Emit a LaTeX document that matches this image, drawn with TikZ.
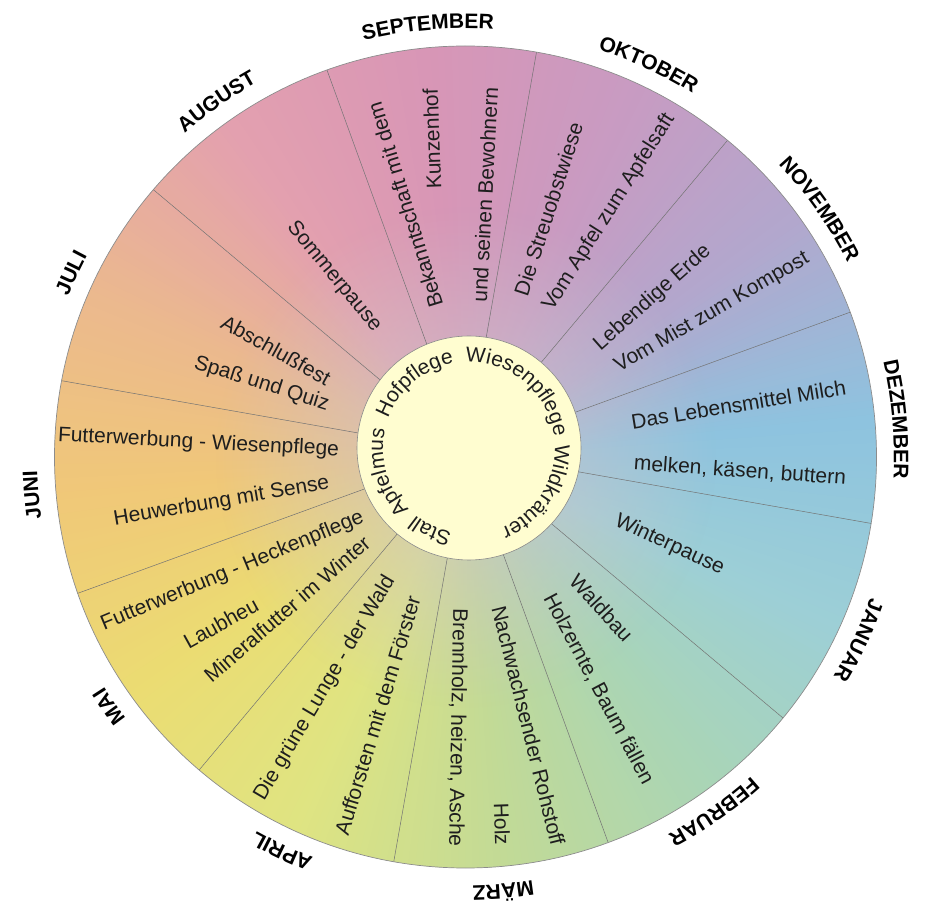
\documentclass[tikz,border=0pt]{standalone}
\usepackage{fontspec}
\setmainfont{Liberation Sans}
\usetikzlibrary{decorations.text,fadings}

% ring colours, one per month (taken at the rim)
\definecolor{cSep}{HTML}{D896B6}
\definecolor{cOkt}{HTML}{C89BC2}
\definecolor{cNov}{HTML}{B2A7CD}
\definecolor{cDez}{HTML}{8EC3DF}
\definecolor{cJan}{HTML}{9DCFD6}
\definecolor{cFeb}{HTML}{AAD5B5}
\definecolor{cMar}{HTML}{C2DA96}
\definecolor{cApr}{HTML}{DFE482}
\definecolor{cMai}{HTML}{EBDC72}
\definecolor{cJun}{HTML}{F0C878}
\definecolor{cJul}{HTML}{EBB88F}
\definecolor{cAug}{HTML}{E3A0AF}
\definecolor{paleCore}{HTML}{CCC4CC}
\definecolor{hubFill}{HTML}{FFFDD0}
\definecolor{inkText}{HTML}{1E1E1E}

\tikzfading[name=corefade, inner color=transparent!15, outer color=transparent!100]

\newcommand\labelfont{\fontsize{21}{25}\selectfont}
\newcommand\monthfont{\fontsize{21}{25}\selectfont\bfseries}

% month name bent along the outer arc, centred on angle #1
\newcommand\monthat[2]{%
  \path[decorate, decoration={text along path, text align=center,
        text={|\monthfont\color{black}|#2}}]
    ({#1+25}:428.5) arc[start angle={#1+25}, end angle={#1-25}, radius=428.5];}
% theme word bent along the inside of the hub, centred on angle #1
\newcommand\hubat[2]{%
  \path[decorate, decoration={text along path, text align=center,
        text={|\labelfont\color{inkText}|#2}}]
    ({#1+70}:86) arc[start angle={#1+70}, end angle={#1-70}, radius=86];}

\tikzset{
  wheeltext/.style={font=\labelfont, text=inkText, inner sep=0pt, anchor=center},
  divider/.style={draw=black!55, line width=0.5pt},
  rim/.style={draw=black!45, line width=0.7pt},
  hubdisc/.style={fill=hubFill, draw=black!45, line width=0.6pt},
}

\begin{document}
\begin{tikzpicture}[x=1pt, y=1pt]
\useasboundingbox (-465.5,-452) rectangle (467.5,457);

% colour wheel: thin wedges blended between the month colours
\foreach \ca/\cb/\a in {cDez/cNov/5, cNov/cOkt/35, cOkt/cSep/65, cSep/cAug/95,
    cAug/cJul/125, cJul/cJun/155, cJun/cMai/185, cMai/cApr/215,
    cApr/cMar/245, cMar/cFeb/275, cFeb/cJan/305, cJan/cDez/335}{
  \foreach \j in {0,...,29}{
    \pgfmathsetmacro\wp{100-\j*10/3}
    \pgfmathsetmacro\wa{\a+\j}
    \pgfmathsetmacro\wb{\a+\j+1.4}
    \fill[fill=\ca!\wp!\cb] (0,0) -- (\wa:411)
      arc[start angle=\wa, end angle=\wb, radius=411] -- cycle;
  }
}
% paler, greyer core
\fill[paleCore, path fading=corefade, fit fading=false, fading transform={scale=10}]
  (0,0) circle (411);

% month dividers
\begin{scope}
  \clip (0,0) circle (411);
  \foreach \t in {20,50,...,350}
    \draw[divider] (0.5,5) -- ++(\t:440);
\end{scope}
\draw[rim] (0,0) circle (411);

% hub
\draw[hubdisc] (3.5,9) circle (112);
\begin{scope}[shift={(3.5,9)}]
  \hubat{50}{Wiesenpflege}
  \hubat{130}{Hofpflege}
  \hubat{196.6}{Apfelmus}
  \hubat{245}{Stall}
  \hubat{-32.8}{Wildkräuter}
\end{scope}

% month names
\monthat{95}{SEPTEMBER}
\monthat{65}{OKTOBER}
\monthat{35}{NOVEMBER}
\monthat{5}{DEZEMBER}
\monthat{-25}{JANUAR}
\monthat{-55}{FEBRUAR}
\monthat{-85}{MÄRZ}
\monthat{-115}{APRIL}
\monthat{-145}{MAI}
\monthat{-175}{JUNI}
\monthat{-205}{JULI}
\monthat{-235}{AUGUST}

% September
\node[wheeltext, rotate=107] (sep1) at (-60.5,252) {Bekanntschaft mit dem};
\node[wheeltext, rotate=92]  (sep2) at (-33.5,318) {Kunzenhof};
\node[wheeltext, rotate=87]  (sep3) at (19.5,262) {und seinen Bewohnern};
% Oktober
\node[wheeltext, rotate=72]   (okt1) at (83,248) {Die Streuobstwiese};
\node[wheeltext, rotate=57.6] (okt2) at (143.5,244.5) {Vom Apfel zum Apfelsaft};
% November
\node[wheeltext, rotate=41.5] (nov1) at (187,159) {Lebendige Erde};
\node[wheeltext, rotate=30]   (nov2) at (246.5,144.5) {Vom Mist zum Kompost};
% Dezember
\node[wheeltext, rotate=9.2] (dez1) at (273,52.5) {Das Lebensmittel Milch};
\node[wheeltext, rotate=-4]  (dez2) at (274.5,-14) {melken, käsen, buttern};
% Januar
\node[wheeltext, rotate=-25] (jan1) at (204,-88) {Winterpause};
% Februar
\node[wheeltext, rotate=-47.5] (feb1) at (136,-151) {Waldbau};
\node[wheeltext, rotate=-62]   (feb2) at (133,-232) {Holzernte, Baum fällen};
% März
\node[wheeltext, rotate=-76] (mar1) at (63,-268.5) {Nachwachsender Rohstoff};
\node[wheeltext, rotate=-88] (mar2) at (36.5,-367) {Holz};
\node[wheeltext, rotate=-91] (mar3) at (-8,-270.5) {Brennholz, heizen, Asche};
% April
\node[wheeltext, rotate=59.4] (apr1) at (-140.5,-231) {Die grüne Lunge - der Wald};
\node[wheeltext, rotate=73]   (apr2) at (-88,-258.5) {Aufforsten mit dem Förster};
% Mai
\node[wheeltext, rotate=22.6] (mai1) at (-233,-114) {Futterwerbung - Heckenpflege};
\node[wheeltext, rotate=29]   (mai2) at (-244.5,-166) {Laubheu};
\node[wheeltext, rotate=40.8] (mai3) at (-178.5,-152) {Mineralfutter im Winter};
% Juni
\node[wheeltext, rotate=-3]  (jun1) at (-267,14) {Futterwerbung - Wiesenpflege};
\node[wheeltext, rotate=9.7] (jun2) at (-244,-44.5) {Heuwerbung mit Sense};
% Juli
\node[wheeltext, rotate=-29]   (jul1) at (-189.5,107) {Abschlußfest};
\node[wheeltext, rotate=-17.5] (jul2) at (-204,73) {Spaß und Quiz};
% August
\node[wheeltext, rotate=-50.6] (aug1) at (-131.5,180) {Sommerpause};
\end{tikzpicture}
\end{document}
